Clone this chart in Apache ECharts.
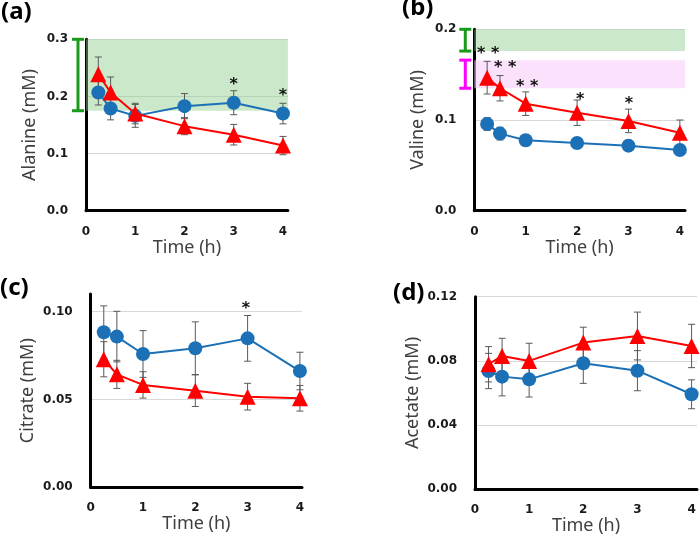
<!DOCTYPE html>
<html><head><meta charset="utf-8">
<script src="https://cdn.jsdelivr.net/npm/echarts@6/dist/echarts.min.js"></script>
<style>html,body{margin:0;padding:0;background:#fff}#c{width:700px;height:541px}</style>
</head><body><div id="c"></div>
<script>
// ---- data ----
const time = [0.25, 0.5, 1, 2, 3, 4];
const xTickLabels = ['0', '1', '2', '3', '4'];

// (a) Alanine
const alaBlue = [0.207, 0.179, 0.166, 0.183, 0.189, 0.170];
const alaBlueErr = [0.022, 0.020, 0.020, 0.022, 0.021, 0.018];
const alaRed = [0.239, 0.207, 0.170, 0.148, 0.133, 0.114];
const alaRedErr = [0.030, 0.027, 0.018, 0.015, 0.018, 0.016];
const alaGreenBand = [0.175, 0.3];
const alaStars = [[3, 0.222, '*'], [4, 0.203, '*']];

// (b) Valine
const valBlue = [0.0956, 0.085, 0.0776, 0.0747, 0.0717, 0.067];
const valBlueErr = [0.007, 0.007, 0.006, 0.006, 0.006, 0.005];
const valRed = [0.1467, 0.135, 0.118, 0.108, 0.099, 0.086];
const valRedErr = [0.018, 0.014, 0.013, 0.014, 0.013, 0.014];
const valGreenBand = [0.176, 0.2];
const valPinkBand = [0.135, 0.166];
const valStars = [[0.27, 0.174, '* *'], [0.6, 0.159, '* *'], [1.03, 0.138, '* *'], [2.06, 0.123, '*'], [3.01, 0.119, '*']];

// (c) Citrate
const citBlue = [0.0883, 0.0858, 0.0759, 0.0792, 0.0848, 0.0662];
const citBlueErr = [0.015, 0.0144, 0.0133, 0.015, 0.013, 0.0107];
const citRed = [0.0729, 0.0643, 0.0583, 0.055, 0.0516, 0.0507];
const citRedErr = [0.010, 0.008, 0.0075, 0.009, 0.0076, 0.0073];
const citStars = [[2.97, 0.102, '*']];

// (d) Acetate
const aceBlue = [0.0737, 0.0702, 0.0685, 0.0785, 0.0739, 0.0592];
const aceBlueErr = [0.011, 0.012, 0.011, 0.0125, 0.0125, 0.009];
const aceRed = [0.0779, 0.0831, 0.080, 0.0914, 0.0955, 0.0893];
const aceRedErr = [0.011, 0.011, 0.011, 0.0096, 0.0149, 0.0135];

// ---- helpers ----
const BLUE = '#1c71b6', RED = '#ff0000', ERR = '#595959';
const TICK_FONT = 'DejaVu Sans';
const NAME_FONT = 'Noto Sans';

function pairs(vals) { return time.map((t, i) => [t, vals[i]]); }
function triples(vals, errs) { return time.map((t, i) => [t, vals[i], errs[i]]); }

function errRender(params, api) {
  const x = api.value(0), y = api.value(1), e = api.value(2);
  const top = api.coord([x, y + e]), bot = api.coord([x, y - e]);
  const w = 3.5;
  const style = { stroke: ERR, lineWidth: 1 };
  return { type: 'group', children: [
    { type: 'line', shape: { x1: top[0], y1: top[1], x2: bot[0], y2: bot[1] }, style },
    { type: 'line', shape: { x1: top[0] - w, y1: top[1], x2: top[0] + w, y2: top[1] }, style },
    { type: 'line', shape: { x1: bot[0] - w, y1: bot[1], x2: bot[0] + w, y2: bot[1] }, style }
  ]};
}
function bracketRender(color, off) {
  return function (params, api) {
    const lo = api.value(0), hi = api.value(1);
    const a = api.coord([0, hi]), b = api.coord([0, lo]);
    const x = a[0] - off, w = 6;
    const style = { stroke: color, lineWidth: 3 };
    return { type: 'group', children: [
      { type: 'line', shape: { x1: x, y1: a[1], x2: x, y2: b[1] }, style },
      { type: 'line', shape: { x1: x - w, y1: a[1], x2: x + w, y2: a[1] }, style },
      { type: 'line', shape: { x1: x - w, y1: b[1], x2: x + w, y2: b[1] }, style }
    ]};
  };
}
function starRender(stars) {
  return function (params, api) {
    const s = stars[params.dataIndex];
    const p = api.coord([s[0], s[1]]);
    return { type: 'text', x: p[0], y: p[1] + 1,
      style: { text: s[2], fill: '#111', font: 'bold 16px DejaVu Sans', align: 'center', verticalAlign: 'middle' } };
  };
}

const grids = [
  { left: 86, top: 39.3, width: 201.9, height: 171.4 },
  { left: 474.3, top: 29.3, width: 210.7, height: 181.4 },
  { left: 90.7, top: 294.1, width: 211.3, height: 193.2 },
  { left: 475, top: 296.7, width: 223.9, height: 192.6 }
];
const xMax = [4.1, 4.1, 4.04, 4.1];
const yConf = [
  { max: 0.3, interval: 0.1, dec: 1, name: 'Alanine (mM)', gap: 47 },
  { max: 0.2, interval: 0.1, dec: 1, name: 'Valine (mM)', gap: 47 },
  { max: 0.11, interval: 0.05, dec: 2, name: 'Citrate (mM)', gap: 54 },
  { max: 0.12, interval: 0.04, dec: 2, name: 'Acetate (mM)', gap: 53 }
];

const xAxes = grids.map((g, i) => ({
  type: 'value', gridIndex: i, min: 0, max: xMax[i], interval: 1,
  name: 'Time (h)', nameLocation: 'middle', nameGap: i === 1 ? 24 : 27,
  nameTextStyle: { fontFamily: NAME_FONT, fontSize: 18, color: '#404040' },
  axisLine: { show: true, lineStyle: { color: '#000', width: 3 } },
  axisTick: { show: false }, splitLine: { show: false },
  axisLabel: { margin: 15, fontFamily: TICK_FONT, fontWeight: 'bold', fontSize: 12, color: '#1a1a1a',
    formatter: v => { const k = Math.round(v); return Math.abs(v - k) < 1e-6 ? xTickLabels[k] : ''; } }
}));
const yAxes = yConf.map((c, i) => ({
  type: 'value', gridIndex: i, min: 0, max: c.max, interval: c.interval,
  name: c.name, nameLocation: 'middle', nameGap: c.gap,
  nameTextStyle: { fontFamily: NAME_FONT, fontSize: 18, color: '#404040' },
  axisLine: { show: true, lineStyle: { color: '#000', width: 3 } },
  axisTick: { show: false },
  splitLine: { show: true, showMinLine: false, showMaxLine: i !== 2, lineStyle: { color: '#d9d9d9', width: 1 } },
  axisLabel: { margin: 18, fontFamily: TICK_FONT, fontWeight: 'bold', fontSize: 12, color: '#1a1a1a',
    formatter: v => { const r = v / c.interval; return Math.abs(r - Math.round(r)) < 1e-6 ? v.toFixed(c.dec) : ''; } }
}));

function panelSeries(i, blue, blueErr, red, redErr, bands, stars) {
  const s = [];
  const areaData = bands.map(b => [{ xAxis: 0, yAxis: b.range[1], itemStyle: { color: b.fill } }, { xAxis: xMax[i], yAxis: b.range[0] }]);
  s.push({ type: 'custom', xAxisIndex: i, yAxisIndex: i, renderItem: errRender, data: triples(blue, blueErr), z: 3, silent: true,
    markArea: areaData.length ? { silent: true, data: areaData, z: 1 } : undefined });
  s.push({ type: 'custom', xAxisIndex: i, yAxisIndex: i, renderItem: errRender, data: triples(red, redErr), z: 3, silent: true });
  s.push({ type: 'line', xAxisIndex: i, yAxisIndex: i, data: pairs(blue), symbol: 'circle', symbolSize: 14,
    itemStyle: { color: BLUE }, lineStyle: { color: BLUE, width: 2 }, z: 4 });
  s.push({ type: 'line', xAxisIndex: i, yAxisIndex: i, data: pairs(red), symbol: 'triangle', symbolSize: 16,
    itemStyle: { color: RED }, lineStyle: { color: RED, width: 2 }, z: 5 });
  bands.forEach(b => {
    s.push({ type: 'custom', xAxisIndex: i, yAxisIndex: i, clip: false, silent: true, z: 6,
      renderItem: bracketRender(b.bracket, b.off), data: [[b.range[0], b.range[1]]] });
  });
  if (stars.length) {
    s.push({ type: 'custom', xAxisIndex: i, yAxisIndex: i, clip: false, silent: true, z: 7,
      renderItem: starRender(stars), data: stars.map(st => [st[0], st[1]]) });
  }
  return s;
}

const series = [].concat(
  panelSeries(0, alaBlue, alaBlueErr, alaRed, alaRedErr,
    [{ range: alaGreenBand, fill: 'rgba(140,205,140,0.45)', bracket: '#1a9a1a', off: 8 }], alaStars),
  panelSeries(1, valBlue, valBlueErr, valRed, valRedErr,
    [{ range: valGreenBand, fill: 'rgba(140,205,140,0.45)', bracket: '#1a9a1a', off: 9 },
     { range: valPinkBand, fill: 'rgba(250,205,250,0.6)', bracket: '#ff00ff', off: 9 }], valStars),
  panelSeries(2, citBlue, citBlueErr, citRed, citRedErr, [], citStars),
  panelSeries(3, aceBlue, aceBlueErr, aceRed, aceRedErr, [], [])
);

const titleStyle = { fontFamily: NAME_FONT, fontWeight: 'bold', fontSize: 24, color: '#000' };
const chart = echarts.init(document.getElementById('c'), null, { renderer: 'canvas' });
chart.setOption({
  animation: false,
  backgroundColor: '#fff',
  title: [
    { text: '(a)', left: 1, top: 0, padding: 0, textStyle: titleStyle },
    { text: '(b)', left: 402, top: -4, padding: 0, textStyle: titleStyle },
    { text: '(c)', left: 0, top: 276, padding: 0, textStyle: titleStyle },
    { text: '(d)', left: 393, top: 281, padding: 0, textStyle: titleStyle }
  ],
  grid: grids,
  xAxis: xAxes,
  yAxis: yAxes,
  series: series
});
</script></body></html>
